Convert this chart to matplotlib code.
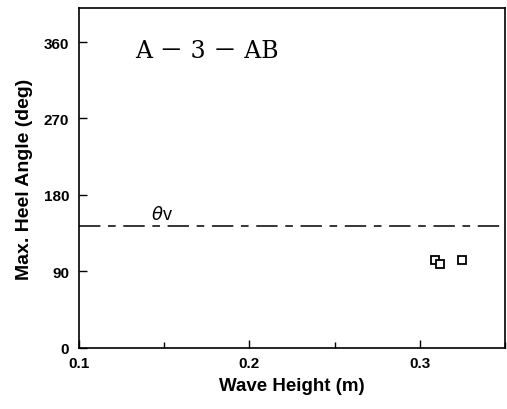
import matplotlib
matplotlib.use("Agg")
import matplotlib.pyplot as plt
from matplotlib.ticker import MultipleLocator

# data
wave_height = [0.309, 0.312, 0.325]
heel_angle = [103, 99, 103]
theta_v = 143

plt.rcParams['font.family'] = ['Liberation Sans', 'DejaVu Sans']

fig = plt.figure(figsize=(5.07, 4.10), dpi=100)
ax = fig.add_axes([0.156, 0.149, 0.84, 0.829])

ax.axhline(theta_v, color='black', lw=1.1, dashes=(14, 5, 5, 5))
ax.plot(wave_height, heel_angle, linestyle='none', marker='s', ms=6,
        mfc='white', mec='black', mew=1.3)

ax.text(0.142, theta_v + 4, r'$\theta$v', fontsize=13, ha='left', va='bottom')
ax.text(0.133, 350, 'A － 3 － AB', fontsize=17,
        family=['DejaVu Serif', 'Noto Sans CJK JP'], va='center')

ax.set_xlim(0.1, 0.35)
ax.set_ylim(0, 400)
ax.set_xticks([0.1, 0.2, 0.3])
ax.set_xticklabels(['0.1', '0.2', '0.3'])
ax.xaxis.set_minor_locator(MultipleLocator(0.05))
ax.set_yticks([0, 90, 180, 270, 360])
ax.tick_params(direction='in', length=6, width=1, labelsize=11)
ax.tick_params(axis='x', pad=6)
ax.tick_params(axis='y', pad=7)
ax.tick_params(which='minor', direction='in', length=4, width=1)
for lab in ax.get_xticklabels() + ax.get_yticklabels():
    lab.set_fontweight('bold')

ax.set_xlabel('Wave Height (m)', fontsize=13.5, fontweight='bold', labelpad=5)
ax.set_ylabel('Max. Heel Angle (deg)', fontsize=14, fontweight='bold', labelpad=8)
for s in ax.spines.values():
    s.set_linewidth(1.2)

fig.savefig('out.png', dpi=100)
